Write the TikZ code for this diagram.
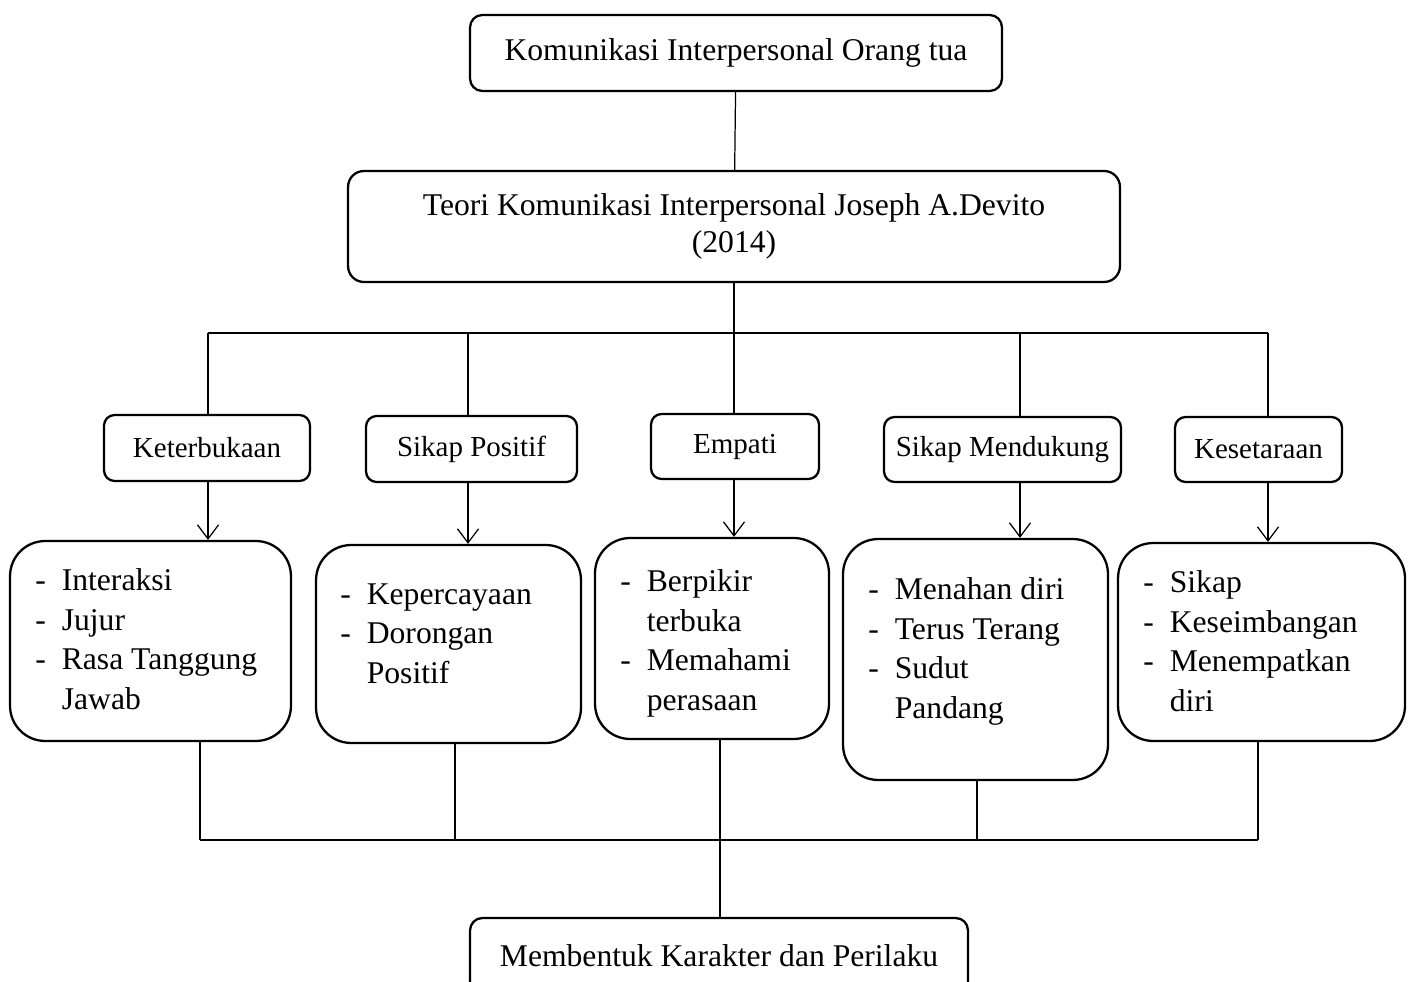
\documentclass[tikz,border=0pt]{standalone}
\usepackage{fontspec}
\setmainfont{Liberation Serif}
\usetikzlibrary{positioning,arrows.meta}

\newcommand{\butir}[1]{\makebox[0.53cm][l]{-}#1}
\newcommand{\lanjut}[1]{\hspace*{0.53cm}#1}

\tikzset{
  box/.style={draw, line width=1.3pt, rounded corners=7pt, inner sep=0pt, align=center, font=\fontsize{18}{19.8}\selectfont},
  kecil/.style={box, rounded corners=6pt, font=\fontsize{16.5}{18}\selectfont},
  kotak/.style={draw, line width=1.3pt, rounded corners=20pt, inner sep=0pt},
  isi/.style={anchor=base west, inner sep=0pt, align=left, font=\fontsize{18}{22.4}\selectfont},
  garis/.style={line width=0.7pt},
  panah/.style={line width=0.7pt, -{Straight Barb[length=8pt,width=12pt]}},
}

\begin{document}
\begin{tikzpicture}[x=0.02cm, y=-0.02cm]

    \useasboundingbox (0,0) rectangle (1415,982);
    \clip (0,0) rectangle (1415,982);

    \node[box, minimum width=10.64cm, minimum height=1.52cm] (ortu) at (736,53) {Komunikasi Interpersonal Orang tua};
    \node[box, rounded corners=9pt, minimum width=15.44cm, minimum height=2.22cm, font=\fontsize{18}{21}\selectfont] (teori) at (734,226.5) {Teori Komunikasi Interpersonal Joseph A.Devito\\(2014)};

    \node[kecil, minimum width=4.12cm, minimum height=1.32cm] (a1) at (207,448) {Keterbukaan};
    \node[kecil, minimum width=4.22cm, minimum height=1.32cm] (a2) at (471.5,449) {Sikap Positif};
    \node[kecil, minimum width=3.36cm, minimum height=1.30cm] (a3) at (735,446.5) {Empati};
    \node[kecil, minimum width=4.74cm, minimum height=1.30cm] (a4) at (1002.5,449.5) {Sikap Mendukung};
    \node[kecil, minimum width=3.34cm, minimum height=1.30cm] (a5) at (1258.5,449.5) {Kesetaraan};

    \node[kotak, minimum width=5.62cm, minimum height=4.00cm] (b1) at (150.5,641) {};
    \node[kotak, minimum width=5.30cm, minimum height=3.96cm] (b2) at (448.5,644) {};
    \node[kotak, minimum width=4.68cm, minimum height=4.02cm] (b3) at (712,638.5) {};
    \node[kotak, minimum width=5.30cm, minimum height=4.82cm] (b4) at (975.5,659.5) {};
    \node[kotak, minimum width=5.74cm, minimum height=3.96cm] (b5) at (1261.5,642) {};

    % isi kotak, diletakkan pada garis dasar baris terakhir
    \node[isi] (t1) at (35,709) {\butir{Interaksi}\\\butir{Jujur}\\\butir{Rasa Tanggung}\\\lanjut{Jawab}};
    \node[isi] (t2) at (340,683) {\butir{Kepercayaan}\\\butir{Dorongan}\\\lanjut{Positif}};
    \node[isi] (t3) at (620,710) {\butir{Berpikir}\\\lanjut{terbuka}\\\butir{Memahami}\\\lanjut{perasaan}};
    \node[isi] (t4) at (868,718) {\butir{Menahan diri}\\\butir{Terus Terang}\\\butir{Sudut}\\\lanjut{Pandang}};
    \node[isi] (t5) at (1143,711) {\butir{Sikap}\\\butir{Keseimbangan}\\\butir{Menempatkan}\\\lanjut{diri}};

    \node[box, minimum width=9.96cm, minimum height=1.52cm] (hasil) at (719,956) {Membentuk Karakter dan Perilaku};

    % simpul garis atas dan bawah
    \coordinate (j1) at (208,333);
    \coordinate (j2) at (468,333);
    \coordinate (j3) at (734,333);
    \coordinate (j4) at (1020,333);
    \coordinate (j5) at (1268,333);
    \coordinate (k1) at (200,840);
    \coordinate (k2) at (455,840);
    \coordinate (k3) at (720,840);
    \coordinate (k4) at (977,840);
    \coordinate (k5) at (1258,840);

    \draw[garis] (ortu) -- (teori);
    \draw[garis] (teori.south) -- (j3);
    \draw[garis] (j1) -- (j5);
    \draw[garis] (j1) -- (j1 |- a1.north);
    \draw[garis] (j2) -- (j2 |- a2.north);
    \draw[garis] (j3) -- (j3 |- a3.north);
    \draw[garis] (j4) -- (j4 |- a4.north);
    \draw[garis] (j5) -- (j5 |- a5.north);

    \draw[panah] (a1.south -| j1) -- (b1.north -| j1);
    \draw[panah] (a2.south -| j2) -- (b2.north -| j2);
    \draw[panah] (a3.south -| j3) -- (b3.north -| j3);
    \draw[panah] (a4.south -| j4) -- (b4.north -| j4);
    \draw[panah] (a5.south -| j5) -- (b5.north -| j5);

    \draw[garis] (k1) -- (k5);
    \draw[garis] (b1.south -| k1) -- (k1);
    \draw[garis] (b2.south -| k2) -- (k2);
    \draw[garis] (b3.south -| k3) -- (hasil.north -| k3);
    \draw[garis] (b4.south -| k4) -- (k4);
    \draw[garis] (b5.south -| k5) -- (k5);

\end{tikzpicture}
\end{document}
